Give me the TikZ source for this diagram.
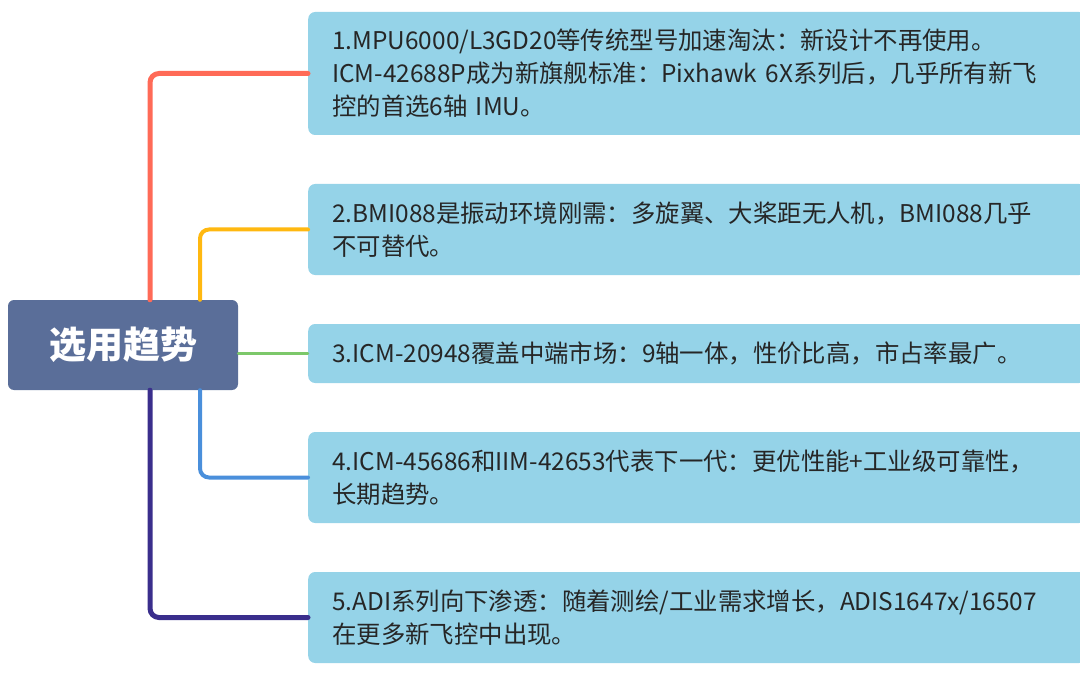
\documentclass[tikz,border=0pt]{standalone}
\usepackage{fontspec}
\setmainfont{Noto Sans CJK SC}
\usetikzlibrary{positioning}
\definecolor{rootblue}{HTML}{5A6E99}
\definecolor{boxblue}{HTML}{95D3E8}
\definecolor{linered}{HTML}{FF6A57}
\definecolor{lineorange}{HTML}{FFB810}
\definecolor{linegreen}{HTML}{7CC86A}
\definecolor{lineblue}{HTML}{4A8FDB}
\definecolor{linepurple}{HTML}{3A2E8C}
\tikzset{
    x=1pt, y=-1pt,
    root/.style={           % central topic
        fill=rootblue,
        rounded corners=6pt,
        minimum width=230pt,
        minimum height=90pt,
        text=white,
        font=\fontsize{37}{42}\selectfont\bfseries
    },
    topic/.style={          % branch boxes
        fill=boxblue,
        rounded corners=7pt,
        minimum width=764pt,
        text width=730pt,
        inner xsep=24pt,
        align=left,
        anchor=west,
        text=black!85,
        font=\fontsize{24.4}{33}\selectfont
    },
    branch/.style={
        rounded corners=9pt,
        line cap=round
    }
}
\begin{document}
\begin{tikzpicture}
    \useasboundingbox (0,0) rectangle (1080,674);
    \node[root] (root) at (123,345) {选用趋势};
    \node[topic, minimum height=123pt] (b1) at (308,73.5) {1.MPU6000/L3GD20等传统型号加速淘汰：新设计不再使用。\\ICM-42688P成为新旗舰标准：Pixhawk 6X系列后，几乎所有新飞\\控的首选6轴 IMU。};
    \node[topic, minimum height=91pt] (b2) at (308,229.5) {2.BMI088是振动环境刚需：多旋翼、大桨距无人机，BMI088几乎\\不可替代。};
    \node[topic, minimum height=59pt] (b3) at (308,353.5) {3.ICM-20948覆盖中端市场：9轴一体，性价比高，市占率最广。};
    \node[topic, minimum height=91pt] (b4) at (308,477.5) {4.ICM-45686和IIM-42653代表下一代：更优性能+工业级可靠性，\\长期趋势。};
    \node[topic, minimum height=91pt] (b5) at (308,617.5) {5.ADI系列向下渗透：随着测绘/工业需求增长，ADIS1647x/16507\\在更多新飞控中出现。};
    % branches
    \draw[branch, linered, line width=5pt] ([xshift=27pt]root.north) |- (b1.west);
    \draw[branch, lineorange, line width=4pt] ([xshift=77pt]root.north) |- (b2.west);
    \draw[branch, linegreen, line width=2.5pt] (root.east |- b3.west) -- (b3.west);
    \draw[branch, lineblue, line width=4pt] ([xshift=77pt]root.south) |- (b4.west);
    \draw[branch, linepurple, line width=5pt] ([xshift=27pt]root.south) |- (b5.west);
\end{tikzpicture}
\end{document}
